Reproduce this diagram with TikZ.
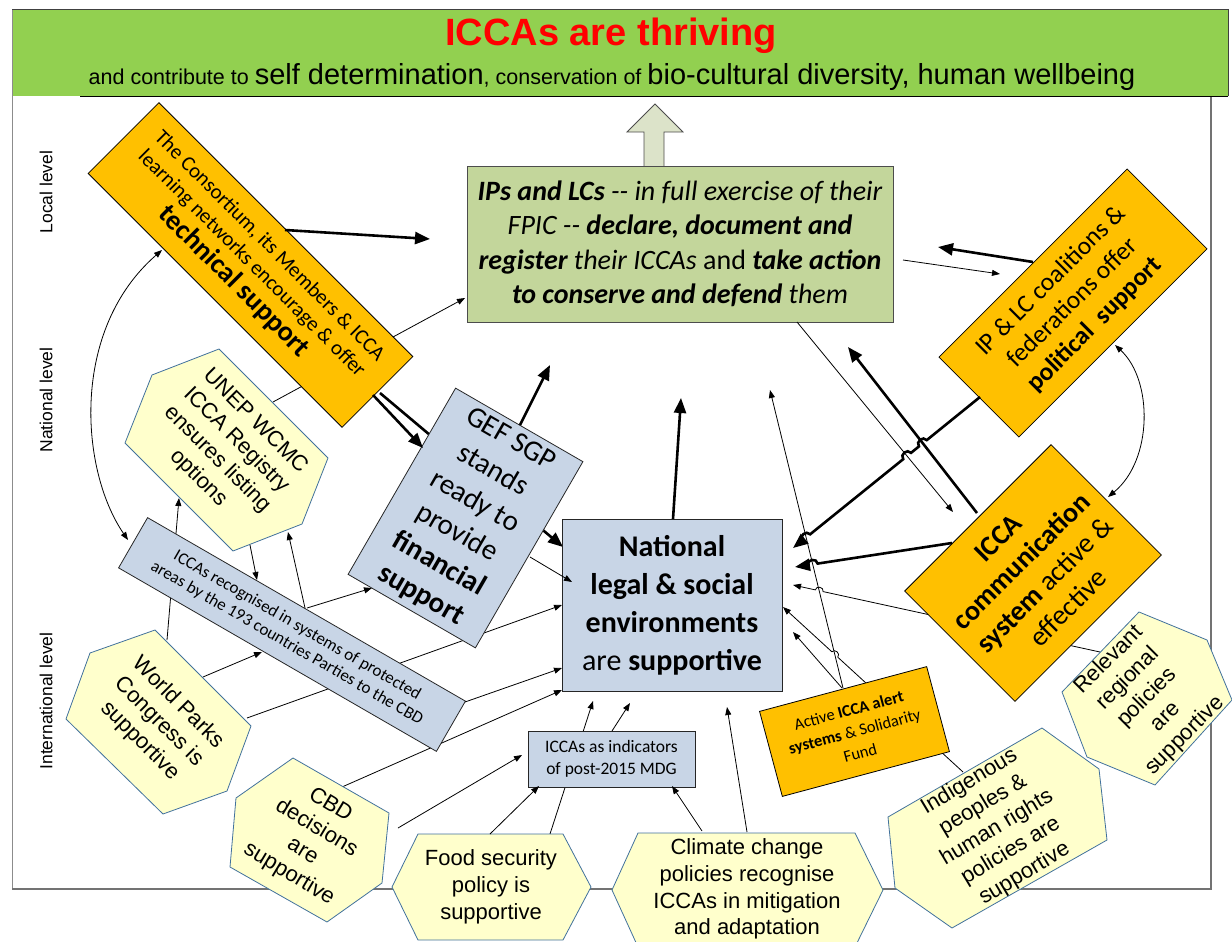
\documentclass[tikz,border=0pt]{standalone}
\usepackage{fontspec}
\setmainfont{Carlito}
\newfontfamily\arial{Liberation Sans}
\usetikzlibrary{arrows.meta,calc}
\definecolor{banner}{HTML}{92D050}
\definecolor{olivebox}{HTML}{C3D69B}
\definecolor{orangebox}{HTML}{FFC000}
\definecolor{bluebox}{HTML}{C8D5E6}
\definecolor{hexfill}{HTML}{FFFFCC}
\definecolor{hexline}{HTML}{41719C}
\definecolor{uparrowc}{HTML}{DCE3C9}
\newcommand{\fs}[2]{\fontsize{#1}{#2}\selectfont}
\begin{document}
\begin{tikzpicture}[x=1pt,y=-1pt,
  tk/.style={line width=2.6pt,-{Triangle[length=15pt,width=12pt]}},
  tn/.style={line width=0.8pt,-{Triangle[length=8pt,width=6pt]}},
  dbl/.style={line width=0.8pt,{Triangle[length=8pt,width=6pt]}-{Triangle[length=8pt,width=6pt]}},
  hexa/.style={draw=hexline,fill=hexfill,line width=0.8pt},
  obox/.style={draw=black,fill=orangebox,line width=0.8pt,inner sep=0pt,align=center},
  bbox/.style={draw=black!85,fill=bluebox,line width=0.8pt,inner sep=0pt,align=center},
  htext/.style={font=\arial\fs{22}{26.8},align=center,inner sep=0pt},
  lvl/.style={font=\arial\fs{17.5}{20},rotate=90,inner sep=0pt},
  hop/.style={bend right=90,looseness=1.5}]
\useasboundingbox (0,0) rectangle (1232,942);

% frame and banner
\draw[black!45,line width=0.6pt] (12,96) -- (12,889);
\draw[black!55,line width=1.6pt] (12,889) -- (1211,889) -- (1211,96);
\fill[banner] (12,10) rectangle (1228,96);
\draw[black!75,line width=1pt] (12,10) -- (1228,10) -- (1228,96);
\draw[black!45,line width=0.6pt] (12,10) -- (12,96);
\draw[black,line width=1pt] (80,96) -- (1228,96);
\node[font=\arial\bfseries\fs{38}{40},text=red,inner sep=0pt] (title) at (611,36) {ICCAs are thriving};
\node[font=\arial,inner sep=0pt] (sub) at (612,77) {\fs{21.5}{24}and contribute to \fs{29}{30}self determination\fs{21.5}{24}, conservation of \fs{29}{30}bio-cultural diversity, human wellbeing};

% level labels
\node[lvl] (loc) at (46,192) {Local level};
\node[lvl] (natl) at (46,400) {National level};
\node[lvl] (intl) at (46,701) {International level};

% connector end points
\coordinate (c1a) at (285,230); \coordinate (c1b) at (430,239);
\coordinate (c2a) at (373,395); \coordinate (c2b) at (423,448);
\coordinate (c3a) at (380,393); \coordinate (c3b) at (563,547);
\coordinate (c4a) at (520,425); \coordinate (c4b) at (550,365);
\coordinate (c5a) at (673,519); \coordinate (c5b) at (681,398);
\coordinate (c6a) at (1033,262); \coordinate (c6b) at (938,247);
\coordinate (c7a) at (980,397); \coordinate (c7b) at (793,548);
\coordinate (c8a) at (977,513); \coordinate (c8b) at (848,347);
\coordinate (c9a) at (952,543); \coordinate (c9b) at (795,567);
\coordinate (c10a) at (273,402); \coordinate (c10b) at (465,298);
\coordinate (c11a) at (903,260); \coordinate (c11b) at (1000,274);
\coordinate (c12a) at (797,322); \coordinate (c12b) at (953,512);
\coordinate (c13a) at (843,688); \coordinate (c13b) at (770,390);
\coordinate (c14a) at (1100,652); \coordinate (c14b) at (793,585);
\coordinate (c15a) at (963,772); \coordinate (c15b) at (783,607);
\coordinate (c16a) at (842,688); \coordinate (c16b) at (793,632);
\coordinate (c17a) at (747,832); \coordinate (c17b) at (727,707);
\coordinate (c18a) at (702,831); \coordinate (c18b) at (672,786);
\coordinate (c19a) at (612,731); \coordinate (c19b) at (630,703);
\coordinate (c20a) at (550,834); \coordinate (c20b) at (593,701);
\coordinate (c21a) at (490,834); \coordinate (c21b) at (539,786);
\coordinate (c22a) at (398,828); \coordinate (c22b) at (522,755);
\coordinate (c23a) at (342,787); \coordinate (c23b) at (562,690);
\coordinate (c24a) at (247,718); \coordinate (c24b) at (562,605);
\coordinate (c25a) at (465,702); \coordinate (c25b) at (562,668);
\coordinate (c26a) at (203,677); \coordinate (c26b) at (262,652);
\coordinate (c27a) at (167,640); \coordinate (c27b) at (179,498);
\coordinate (c28a) at (250,545); \coordinate (c28b) at (257,580);
\coordinate (c29a) at (305,608); \coordinate (c29b) at (288,532);
\coordinate (c30a) at (307,608); \coordinate (c30b) at (372,588);
\coordinate (c31a) at (530,557); \coordinate (c31b) at (572,582);
\coordinate (c32a) at (162,250); \coordinate (c32b) at (128,540);
\coordinate (c33a) at (1115,345); \coordinate (c33b) at (1108,497);

% crossings
\coordinate (x78) at (intersection of c7a--c7b and c8a--c8b);
\coordinate (x712) at (intersection of c7a--c7b and c12a--c12b);
\coordinate (x713) at (intersection of c7a--c7b and c13a--c13b);
\coordinate (x913) at (intersection of c9a--c9b and c13a--c13b);
\coordinate (x1413) at (intersection of c14a--c14b and c13a--c13b);
\coordinate (x1513) at (intersection of c15a--c15b and c13a--c13b);

% lines passing under boxes
\draw[tk] (c3a) -- (c3b);
\draw[tn] (c10a) -- (c10b);
\draw[tn] (c14a) -- ($(x1413)!4pt!(c14a)$) to[hop] ($(x1413)!4pt!(c14b)$) -- (c14b);
\draw[tn] (c15a) -- ($(x1513)!4pt!(c15a)$) to[hop] ($(x1513)!4pt!(c15b)$) -- (c15b);
\draw[tn] (c20a) -- (c20b);
\draw[tn] (c23a) -- (c23b);
\draw[tn] (c24a) -- (c24b);
\draw[tn] (c27a) -- (c27b);

% up block arrow
\draw[black!70,fill=uparrowc,line width=0.8pt] (644,166) -- (644,132) -- (627,132) -- (655,104) -- (683,132) -- (664,132) -- (664,166);

% boxes
\node[draw=black!70,fill=olivebox,line width=0.8pt,minimum width=426pt,minimum height=156pt,inner sep=0pt,align=center,font=\fs{28}{34.5}\itshape] (green) at (680,244)
 {\textbf{IPs and LCs} {-}{-} in full exercise of their\\ FPIC {-}{-} \textbf{declare, document and}\\ \textbf{register} their ICCAs {\upshape and} \textbf{take action}\\ \textbf{to conserve and defend} them};

\node[obox,minimum width=359pt,minimum height=100pt,rotate=-45,font=\fs{21}{25}] (tech) at (250.5,265)
 {The Consortium, its Members \& ICCA\\ learning networks encourage \& offer\\[2pt] {\fs{28}{31}\bfseries technical support}};

\draw[hexa] (219,349) -- (152,375) -- (125,443) -- (233,551) -- (302,524) -- (328,458) -- cycle;
\node[htext,rotate=-45] (unep) at (226.5,450) {UNEP WCMC\\ ICCA Registry\\ ensures listing\\ options};

\node[bbox,minimum width=147pt,minimum height=215pt,rotate=-30,font=\fs{29}{36}] (gef) at (465.5,518)
 {GEF SGP\\ stands\\ ready to\\ provide\\ \textbf{financial}\\ \textbf{support}};

\node[bbox,minimum width=220pt,minimum height=172pt,font=\fs{30}{38}] (nat) at (672,605)
 {\textbf{National}\\ \textbf{legal \& social}\\ \textbf{environments}\\ are \textbf{supportive}};

\node[bbox,minimum width=367pt,minimum height=58pt,rotate=-30,font=\fs{17}{20.5}] (icr) at (292,634.5)
 {ICCAs recognised in systems of protected\\ areas by the 193 countries Parties to the CBD};

\node[bbox,minimum width=167pt,minimum height=56pt,font=\fs{17.5}{22}] (ind) at (611.5,759)
 {ICCAs as indicators\\ of post-2015 MDG};

\node[obox,minimum width=173pt,minimum height=88pt,rotate=15,font=\fs{16.5}{22}] (alert) at (854.5,731.5)
 {Active \textbf{ICCA alert}\\ \textbf{systems} \& Solidarity\\ Fund};

\node[obox,minimum width=207pt,minimum height=156pt,rotate=45,font=\fs{28}{33}] (comm) at (1033,573)
 {\textbf{ICCA}\\ \textbf{communication}\\ \textbf{system} active \&\\ effective};

\node[obox,minimum width=266pt,minimum height=113pt,rotate=45,font=\fs{25.5}{31}] (iplc) at (1073,303)
 {IP \& LC coalitions \&\\ federations offer\\ \textbf{political\ \ support}};

\draw[hexa] (155,630) -- (90,653) -- (66,719) -- (163,814) -- (227,791) -- (251,726) -- cycle;
\node[htext,rotate=-45] (wpc) at (158.7,722) {World Parks\\ Congress is\\ supportive};

\draw[hexa] (293,758) -- (236,798) -- (230,867) -- (327,922) -- (382,883) -- (389,813) -- cycle;
\node[htext,rotate=-31] (cbd) at (309.5,840) {CBD\\ decisions\\ are\\ supportive};

\draw[hexa] (392,887) -- (418,834) -- (563,834) -- (591,887) -- (563,940) -- (418,940) -- cycle;
\node[htext] (food) at (491,887) {Food security\\ policy is\\ supportive};

\draw[hexa] (612,890) -- (638,833) -- (855,833) -- (883,890) -- (855,947) -- (638,947) -- cycle;
\node[htext] (clim) at (747,889) {Climate change\\ policies recognise\\ ICCAs in mitigation\\ and adaptation};

\draw[hexa] (1042,728) -- (1099,769) -- (1107,840) -- (952,928) -- (895,888) -- (888,817) -- cycle;
\node[htext,rotate=31] (indig) at (997,828) {Indigenous\\ peoples \&\\ human rights\\ policies are\\ supportive};

\draw[hexa] (1139,612) -- (1207,640) -- (1232,700) -- (1155,785) -- (1087,757) -- (1062,692) -- cycle;
\node[htext,rotate=45] (reg) at (1147,698) {Relevant\\ regional\\ policies\\ are\\ supportive};

% thick connectors on top
\draw[tk] (c1a) -- (c1b);
\draw[tk] (c2a) -- (c2b);
\draw[tk] (c4a) -- (c4b);
\draw[tk] (c5a) -- (c5b);
\draw[tk] (c6a) -- (c6b);
\draw[tk] (c8a) -- (c8b);
\draw[tk] (c7a) -- ($(x78)!5pt!(c7a)$) to[hop] ($(x78)!5pt!(c7b)$) -- ($(x712)!5pt!(c7a)$) to[hop] ($(x712)!5pt!(c7b)$) -- ($(x713)!5pt!(c7a)$) to[hop] ($(x713)!5pt!(c7b)$) -- (c7b);
\draw[tk] (c9a) -- ($(x913)!5pt!(c9a)$) to[hop] ($(x913)!5pt!(c9b)$) -- (c9b);

% thin connectors on top
\draw[tn] (c11a) -- (c11b);
\draw[tn] (c12a) -- (c12b);
\draw[tn] (c13a) -- (c13b);
\draw[tn] (c16a) -- (c16b);
\draw[tn] (c17a) -- (c17b);
\draw[tn] (c18a) -- (c18b);
\draw[tn] (c19a) -- (c19b);
\draw[tn] (c21a) -- (c21b);
\draw[tn] (c22a) -- (c22b);
\draw[tn] (c25a) -- (c25b);
\draw[tn] (c26a) -- (c26b);
\draw[tn] (c28a) -- (c28b);
\draw[tn] (c29a) -- (c29b);
\draw[tn] (c30a) -- (c30b);
\draw[tn] (c31a) -- (c31b);
\draw[dbl] (c32a) .. controls (70,330) and (80,470) .. (c32b);
\draw[dbl] (c33a) .. controls (1153,380) and (1153,460) .. (c33b);
\end{tikzpicture}
\end{document}
